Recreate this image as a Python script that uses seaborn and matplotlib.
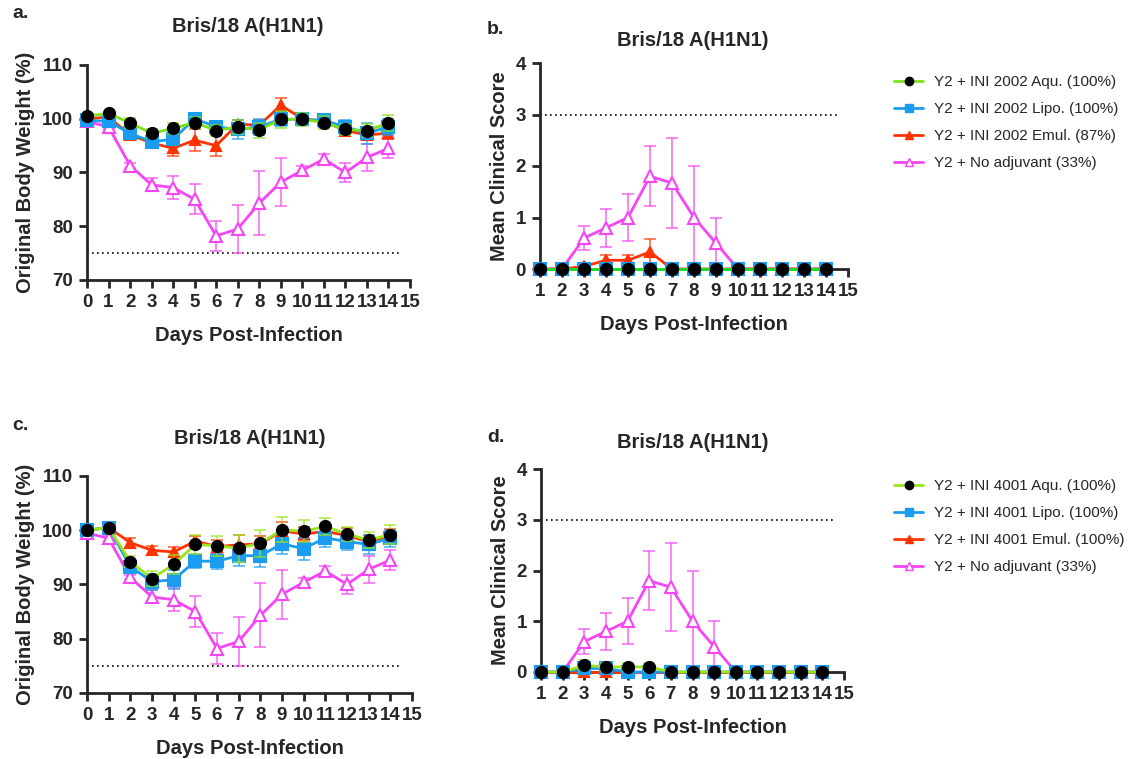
import matplotlib
matplotlib.use('Agg')
import matplotlib.pyplot as plt
import seaborn as sns
from matplotlib.lines import Line2D

sns.set_style('ticks')
plt.rcParams['font.family'] = ['Liberation Sans', 'DejaVu Sans']

# ---- data ----
days_w = list(range(0, 15))
days_s = list(range(1, 15))

# panel a: INI 2002 body weight (%)
a_aqu = [100.5, 101.0, 99.2, 97.3, 98.2, 99.3, 97.8, 98.5, 97.9, 99.9, 99.9, 99.3, 98.0, 97.8, 99.2]
a_aqu_err = [0.3, 0.3, 1.0, 0.8, 1.1, 1.0, 1.0, 1.3, 1.4, 1.6, 1.2, 1.2, 1.0, 1.2, 1.5]
a_lipo = [99.7, 99.5, 97.3, 95.7, 96.2, 100.0, 98.5, 98.0, 98.5, 99.9, 99.9, 99.7, 98.5, 97.3, 98.5]
a_lipo_err = [0.3, 0.5, 1.0, 1.0, 1.0, 0.8, 1.0, 1.8, 1.5, 1.3, 1.0, 1.2, 1.3, 2.0, 1.5]
a_emul = [100.0, 100.3, 97.0, 95.5, 94.5, 96.0, 95.0, 99.0, 98.8, 102.5, 100.0, 99.5, 97.8, 97.0, 97.3]
a_emul_err = [0.3, 0.3, 0.8, 1.0, 1.5, 2.0, 2.0, 0.8, 1.0, 1.3, 0.8, 1.0, 0.8, 1.0, 1.0]
noadj = [99.5, 98.5, 91.3, 87.7, 87.2, 85.0, 78.2, 79.5, 84.3, 88.2, 90.4, 92.5, 90.0, 92.8, 94.5]
noadj_err = [0.3, 0.5, 0.5, 1.2, 2.1, 2.8, 2.8, 4.5, 5.9, 4.5, 0.8, 1.0, 1.8, 2.5, 1.8]

# panel b: INI 2002 clinical score
b_aqu = [0] * 14
b_lipo = [0] * 14
b_emul = [0, 0, 0.05, 0.17, 0.17, 0.33, 0, 0, 0, 0, 0, 0, 0, 0]
b_emul_err = [0, 0, 0, 0.1, 0.1, 0.25, 0, 0, 0, 0, 0, 0, 0, 0]
s_noadj = [0, 0, 0.6, 0.8, 1.0, 1.8, 1.67, 1.0, 0.5, 0, 0, 0, 0, 0]
s_noadj_err = [0, 0, 0.24, 0.37, 0.45, 0.58, 0.87, 1.0, 0.5, 0, 0, 0, 0, 0]

# panel c: INI 4001 body weight (%)
c_aqu = [100.0, 100.5, 94.2, 91.1, 93.7, 97.4, 97.1, 96.7, 97.6, 100.1, 99.8, 100.7, 99.3, 98.2, 99.2]
c_aqu_err = [0.2, 0.3, 1.0, 1.3, 1.8, 1.8, 1.9, 2.5, 2.5, 2.3, 2.0, 1.6, 1.3, 1.5, 1.7]
c_lipo = [100.0, 100.5, 93.3, 90.5, 90.9, 94.3, 94.3, 95.3, 95.3, 97.5, 96.6, 98.6, 97.9, 97.4, 98.5]
c_lipo_err = [0.2, 0.3, 1.0, 1.5, 1.8, 1.3, 1.4, 1.8, 2.0, 1.8, 2.0, 1.6, 1.6, 1.7, 1.5]
c_emul = [100.0, 100.5, 97.7, 96.3, 96.0, 98.0, 97.0, 97.3, 97.5, 99.9, 99.3, 99.8, 99.0, 97.9, 99.0]
c_emul_err = [0.2, 0.3, 0.9, 0.8, 1.0, 1.0, 1.2, 1.8, 1.5, 1.6, 1.3, 1.2, 1.5, 1.3, 1.2]

# panel d: INI 4001 clinical score
d_aqu = [0, 0, 0.13, 0.1, 0.1, 0.1, 0, 0, 0, 0, 0, 0, 0, 0]
d_aqu_err = [0, 0, 0.1, 0.08, 0.08, 0.08, 0, 0, 0, 0, 0, 0, 0, 0]
d_lipo = [0, 0, 0.07, 0.07, 0, 0, 0, 0, 0, 0, 0, 0, 0, 0]
d_emul = [0] * 14

labels_2002 = ['Y2 + INI 2002 Aqu. (100%)', 'Y2 + INI 2002 Lipo. (100%)',
               'Y2 + INI 2002 Emul. (87%)', 'Y2 + No adjuvant (33%)']
labels_4001 = ['Y2 + INI 4001 Aqu. (100%)', 'Y2 + INI 4001 Lipo. (100%)',
               'Y2 + INI 4001 Emul. (100%)', 'Y2 + No adjuvant (33%)']

GREEN_A = '#7ee01a'
GREEN_B = '#1fe01f'
GREEN_C = '#9ae61a'
BLUE = '#1a9cf0'
RED = '#ff3300'
MAG = '#f545f5'

W, H = 1134, 759
fig = plt.figure(figsize=(W / 100, H / 100), dpi=100)


def box(l, t, r, b):
    return [l / W, 1 - b / H, (r - l) / W, (b - t) / H]


def series(ax, x, y, err, color, marker, mfc, mec, ms, z):
    sns.lineplot(x=x, y=y, ax=ax, color=color, marker=marker, markersize=ms,
                 markerfacecolor=mfc, markeredgecolor=mec, markeredgewidth=1.5,
                 linewidth=2, zorder=z, clip_on=False, errorbar=None)
    if err is not None:
        ax.errorbar(x, y, yerr=err, fmt='none', ecolor=color, elinewidth=1.2,
                    capsize=4, capthick=1.2, alpha=0.75, zorder=z - 0.5, clip_on=False)


def style(ax, xlim, ylim, yticks, ylabel, dotted, title_xy):
    ax.set_xlim(*xlim)
    ax.set_ylim(*ylim)
    ax.set_xticks(range(xlim[0], xlim[1] + 1))
    ax.set_yticks(yticks)
    ax.axhline(dotted, xmin=0, xmax=0.97, color='black', linestyle=(0, (1, 2)), linewidth=1.2)
    sns.despine(ax=ax)
    for s in ['left', 'bottom']:
        ax.spines[s].set_linewidth(2)
    ax.tick_params(width=2, length=6, labelsize=13.5, pad=4)
    for t in ax.get_xticklabels() + ax.get_yticklabels():
        t.set_fontweight('bold')
    ax.set_xlabel('Days Post-Infection', fontsize=14.5, fontweight='bold', labelpad=11)
    ax.set_ylabel(ylabel, fontsize=14.5, fontweight='bold', labelpad=5)
    fig.text(title_xy[0] / W, 1 - title_xy[1] / H, 'Bris/18 A(H1N1)', fontsize=14.5,
             fontweight='bold', ha='center', va='center')


# panel a
ax = fig.add_axes(box(87, 65, 410, 280))
series(ax, days_w, noadj, noadj_err, MAG, '^', 'white', MAG, 8, 3)
series(ax, days_w, a_emul, a_emul_err, RED, '^', RED, RED, 7, 4)
series(ax, days_w, a_lipo, a_lipo_err, BLUE, 's', BLUE, BLUE, 8, 5)
series(ax, days_w, a_aqu, a_aqu_err, GREEN_A, 'o', 'black', 'black', 8, 6)
style(ax, (0, 15), (70, 110), [70, 80, 90, 100, 110], 'Original Body Weight (%)', 75, (248, 27))

# panel b
ax = fig.add_axes(box(540, 63, 848, 269))
series(ax, days_s, s_noadj, s_noadj_err, MAG, '^', 'white', MAG, 8, 3)
series(ax, days_s, b_emul, b_emul_err, RED, '^', RED, RED, 7, 4)
series(ax, days_s, b_lipo, None, BLUE, 's', BLUE, BLUE, 8, 5)
series(ax, days_s, b_aqu, None, GREEN_B, 'o', 'black', 'black', 8, 6)
style(ax, (1, 15), (0, 4), [0, 1, 2, 3, 4], 'Mean Clinical Score', 3, (693, 40))

# panel c
ax = fig.add_axes(box(87, 476, 412, 693))
series(ax, days_w, noadj, noadj_err, MAG, '^', 'white', MAG, 8, 3)
series(ax, days_w, c_emul, c_emul_err, RED, '^', RED, RED, 7, 4)
series(ax, days_w, c_lipo, c_lipo_err, BLUE, 's', BLUE, BLUE, 8, 5)
series(ax, days_w, c_aqu, c_aqu_err, GREEN_C, 'o', 'black', 'black', 8, 6)
style(ax, (0, 15), (70, 110), [70, 80, 90, 100, 110], 'Original Body Weight (%)', 75, (250, 438))

# panel d
ax = fig.add_axes(box(541, 469, 844, 672))
series(ax, days_s, s_noadj, s_noadj_err, MAG, '^', 'white', MAG, 8, 3)
series(ax, days_s, d_emul, None, RED, '^', RED, RED, 7, 4)
series(ax, days_s, d_lipo, None, BLUE, 's', BLUE, BLUE, 8, 5)
series(ax, days_s, d_aqu, d_aqu_err, GREEN_C, 'o', 'black', 'black', 8, 6)
style(ax, (1, 15), (0, 4), [0, 1, 2, 3, 4], 'Mean Clinical Score', 3, (693, 442))


def legend(labels, green, top):
    specs = [(green, 'o', 'black'), (BLUE, 's', BLUE), (RED, '^', RED), (MAG, '^', 'white')]
    handles = []
    for (c, m, fc) in specs:
        mec = 'black' if m == 'o' else c
        handles.append(Line2D([], [], color=c, marker=m, markerfacecolor=fc,
                              markeredgecolor=mec, markersize=6, linewidth=2))
    fig.legend(handles, labels, loc='upper left', bbox_to_anchor=(888 / W, 1 - top / H),
               frameon=False, fontsize=11, handlelength=1.9, handletextpad=0.7,
               labelspacing=0.85, borderaxespad=0)


legend(labels_2002, GREEN_A, 69)
legend(labels_4001, GREEN_C, 473)

for txt, x, y in [('a.', 12, 13), ('b.', 487, 29), ('c.', 12, 426), ('d.', 487, 438)]:
    fig.text(x / W, 1 - y / H, txt, fontsize=14, fontweight='bold', va='center')

fig.savefig('out.png', dpi=100)
